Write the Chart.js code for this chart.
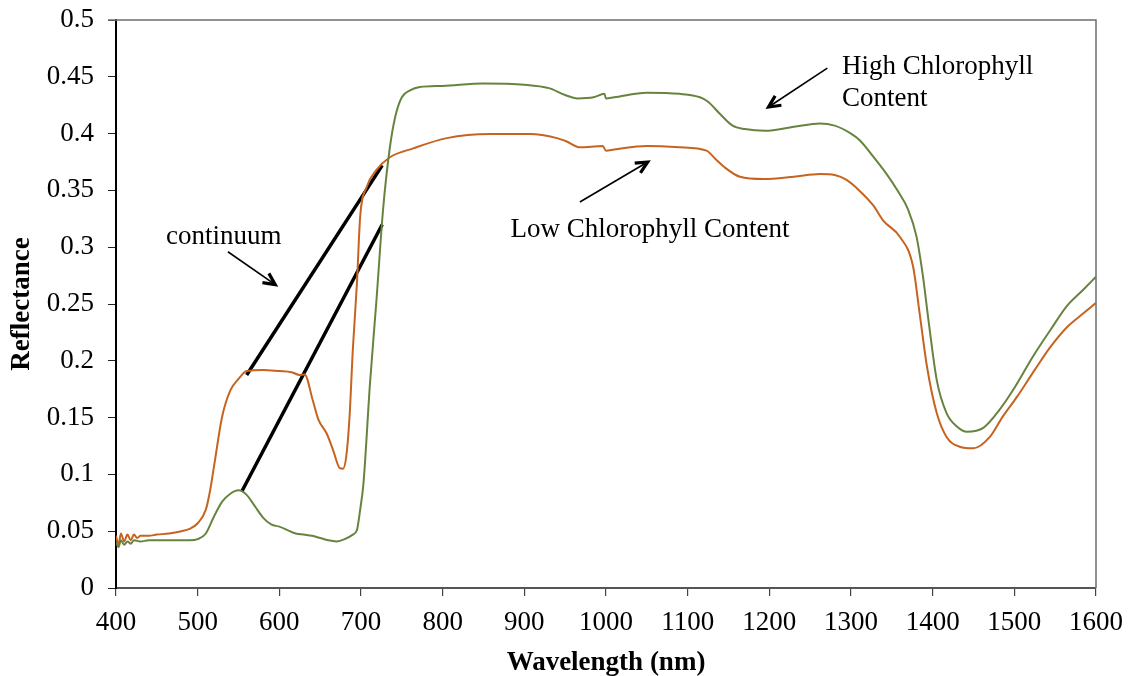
<!DOCTYPE html>
<html>
<head>
<meta charset="utf-8">
<title>Reflectance spectra</title>
<script src="https://cdn.jsdelivr.net/npm/chart.js@4.4.1/dist/chart.umd.min.js"></script>
<style>
  html, body { margin: 0; padding: 0; background: #fff; }
  #wrap { width: 1129px; height: 676px; position: relative; }
</style>
</head>
<body>
<div id="wrap"><canvas id="chart" width="1129" height="676"></canvas></div>
<script>
// high chlorophyll leaf spectrum (nm / reflectance)
var highNm = [400, 403, 406, 410, 414, 418, 422, 430, 440, 450, 470, 490, 500, 510, 520, 530, 540, 550,
  560, 570, 580, 590, 600, 610, 620, 630, 640, 650, 660, 670, 680, 690, 695, 699, 703, 711, 719, 727,
  735, 742, 750, 760, 772, 800, 850, 900, 930, 950, 965, 985, 998, 1000, 1010, 1050, 1090, 1115,
  1125, 1140, 1155, 1170, 1195, 1230, 1262, 1280, 1300, 1311, 1327, 1343, 1356, 1370, 1380, 1388,
  1395, 1405, 1417, 1430, 1442, 1462, 1482, 1500, 1523, 1545, 1564, 1585, 1600];
var highRefl = [0.040, 0.036, 0.042, 0.038, 0.041, 0.039, 0.042, 0.041, 0.042, 0.042, 0.042, 0.042,
  0.043, 0.048, 0.063, 0.076, 0.083, 0.086, 0.082, 0.072, 0.062, 0.056, 0.054, 0.051, 0.048, 0.047,
  0.046, 0.044, 0.042, 0.041, 0.043, 0.047, 0.051, 0.069, 0.092, 0.180, 0.254, 0.333, 0.386, 0.415,
  0.432, 0.438, 0.441, 0.442, 0.444, 0.443, 0.440, 0.434, 0.431, 0.432, 0.435, 0.431, 0.432, 0.436,
  0.435, 0.432, 0.428, 0.417, 0.407, 0.404, 0.4025, 0.406, 0.409, 0.407, 0.400, 0.394, 0.380, 0.365,
  0.351, 0.333, 0.310, 0.275, 0.235, 0.183, 0.154, 0.142, 0.1376, 0.141, 0.157, 0.176, 0.204, 0.228,
  0.248, 0.263, 0.274];

// low chlorophyll leaf spectrum
var lowNm = [400, 403, 406, 410, 414, 418, 422, 426, 430, 440, 450, 465, 480, 490, 500, 510, 515, 520,
  530, 540, 550, 560, 580, 600, 615, 625, 631, 641, 648, 658, 666, 674, 678, 682, 686, 690, 695, 699,
  707, 719, 735, 764, 805, 858, 907, 940, 952, 968, 996, 1000, 1010, 1050, 1090, 1123, 1135, 1144,
  1164, 1193, 1230, 1262, 1280, 1295, 1310, 1327, 1340, 1360, 1376, 1384, 1393, 1405, 1417, 1433,
  1450, 1470, 1485, 1503, 1525, 1544, 1565, 1585, 1600];
var lowRefl = [0.046, 0.038, 0.048, 0.041, 0.047, 0.042, 0.047, 0.044, 0.046, 0.046, 0.047, 0.048,
  0.050, 0.052, 0.057, 0.069, 0.085, 0.107, 0.151, 0.174, 0.184, 0.191, 0.192, 0.191, 0.190, 0.1875,
  0.188, 0.165, 0.148, 0.136, 0.121, 0.1055, 0.105, 0.116, 0.151, 0.210, 0.268, 0.327, 0.353, 0.368,
  0.379, 0.387, 0.396, 0.3996, 0.3996, 0.396, 0.393, 0.388, 0.389, 0.385, 0.386, 0.389, 0.388, 0.385,
  0.377, 0.371, 0.362, 0.360, 0.362, 0.3644, 0.3635, 0.359, 0.350, 0.337, 0.323, 0.309, 0.283, 0.242,
  0.195, 0.154, 0.133, 0.1244, 0.123, 0.133, 0.150, 0.168, 0.192, 0.212, 0.230, 0.242, 0.251];

// continuum lines across the green peak / red well
var contUpperNm = [560, 726];
var contUpperRefl = [0.1875, 0.372];
var contLowerNm = [554, 726];
var contLowerRefl = [0.085, 0.320];

var xTicks = { min: 400, max: 1600, step: 100 };
var yTicks = { min: 0, max: 0.5, step: 0.05 };

// text labels and their arrows, in data units
var notes = [
  { lines: ['continuum'], nm: 532, r: 0.309, align: 'center', from: [537, 0.296], to: [595, 0.267] },
  { lines: ['High Chlorophyll', 'Content'], nm: 1289, r: 0.4586, align: 'left', from: [1271, 0.4577], to: [1199, 0.4234] },
  { lines: ['Low Chlorophyll Content'], nm: 1054, r: 0.315, align: 'center', from: [968, 0.3398], to: [1051, 0.375] }
];

function pts(xs, ys) {
  var out = [];
  for (var i = 0; i < xs.length; i++) out.push({ x: xs[i], y: ys[i] });
  return out;
}

var FONT = '"Liberation Serif", "Times New Roman", serif';

function arrow(ctx, x1, y1, x2, y2) {
  var ang = Math.atan2(y2 - y1, x2 - x1);
  var head = 13;
  ctx.lineWidth = 1.6;
  ctx.beginPath();
  ctx.moveTo(x1, y1);
  ctx.lineTo(x2, y2);
  ctx.stroke();
  ctx.lineWidth = 3.2;
  ctx.lineJoin = 'miter';
  ctx.beginPath();
  ctx.moveTo(x2 - head * Math.cos(ang - 0.45), y2 - head * Math.sin(ang - 0.45));
  ctx.lineTo(x2, y2);
  ctx.lineTo(x2 - head * Math.cos(ang + 0.45), y2 - head * Math.sin(ang + 0.45));
  ctx.stroke();
}

var decor = {
  id: 'decor',
  beforeDatasetsDraw: function (chart) {
    var ctx = chart.ctx, a = chart.chartArea;
    ctx.save();
    // grey frame on top and right
    ctx.strokeStyle = '#6e6e6e';
    ctx.lineWidth = 1.5;
    ctx.beginPath();
    ctx.moveTo(a.left - 8, a.top);
    ctx.lineTo(a.right, a.top);
    ctx.lineTo(a.right, a.bottom);
    ctx.stroke();
    ctx.restore();
  },
  afterDatasetsDraw: function (chart) {
    var ctx = chart.ctx, a = chart.chartArea;
    var xs = chart.scales.x, ys = chart.scales.y;
    ctx.save();
    ctx.fillStyle = '#000';
    ctx.strokeStyle = '#000';
    ctx.font = '27px ' + FONT;
    ctx.textBaseline = 'middle';
    notes.forEach(function (n) {
      var px = xs.getPixelForValue(n.nm), py = ys.getPixelForValue(n.r);
      ctx.textAlign = n.align;
      n.lines.forEach(function (t, i) { ctx.fillText(t, px, py + i * 32); });
      arrow(ctx, xs.getPixelForValue(n.from[0]), ys.getPixelForValue(n.from[1]),
        xs.getPixelForValue(n.to[0]), ys.getPixelForValue(n.to[1]));
    });

    // axis titles
    ctx.font = 'bold 27px ' + FONT;
    ctx.textAlign = 'center';
    ctx.fillText('Wavelength (nm)', (a.left + a.right) / 2, 663);
    ctx.translate(22, (a.top + a.bottom) / 2);
    ctx.rotate(-Math.PI / 2);
    ctx.fillText('Reflectance', 0, 0);
    ctx.restore();
  }
};

new Chart(document.getElementById('chart'), {
  type: 'line',
  data: {
    datasets: [
      { label: 'High Chlorophyll Content', data: pts(highNm, highRefl), borderColor: '#66843f', borderWidth: 2, pointRadius: 0, cubicInterpolationMode: 'monotone' },
      { label: 'Low Chlorophyll Content', data: pts(lowNm, lowRefl), borderColor: '#c6641f', borderWidth: 2, pointRadius: 0, cubicInterpolationMode: 'monotone' },
      { label: 'continuum', data: pts(contUpperNm, contUpperRefl), borderColor: '#000', borderWidth: 3.5, pointRadius: 0 },
      { label: 'continuum 2', data: pts(contLowerNm, contLowerRefl), borderColor: '#000', borderWidth: 3.5, pointRadius: 0 }
    ]
  },
  options: {
    responsive: false,
    animation: false,
    layout: { padding: { left: 0, top: 20, right: 33, bottom: 0 } },
    plugins: { legend: { display: false }, tooltip: { enabled: false } },
    scales: {
      x: {
        type: 'linear', min: xTicks.min, max: xTicks.max,
        grid: { drawOnChartArea: false, drawTicks: true, tickLength: 8, color: '#444', lineWidth: 1.2 },
        border: { display: true, color: '#555', width: 2 },
        ticks: {
          stepSize: xTicks.step, color: '#000', padding: 11, maxRotation: 0, font: { family: FONT, size: 27 },
          callback: function (v) { return String(v); }
        },
        afterFit: function (s) { s.height = 88; s.paddingLeft = 0; s.paddingRight = 0; }
      },
      y: {
        min: yTicks.min, max: yTicks.max,
        grid: { drawOnChartArea: false, drawTicks: true, tickLength: 8, color: '#222', lineWidth: 1 },
        border: { display: true, color: '#000', width: 2 },
        ticks: {
          stepSize: yTicks.step, color: '#000', padding: 14, font: { family: FONT, size: 27 },
          callback: function (v) { return String(+v.toFixed(2)); }
        },
        afterFit: function (s) { s.width = 116; s.paddingTop = 0; s.paddingBottom = 0; }
      }
    }
  },
  plugins: [decor]
});
</script>
</body>
</html>
